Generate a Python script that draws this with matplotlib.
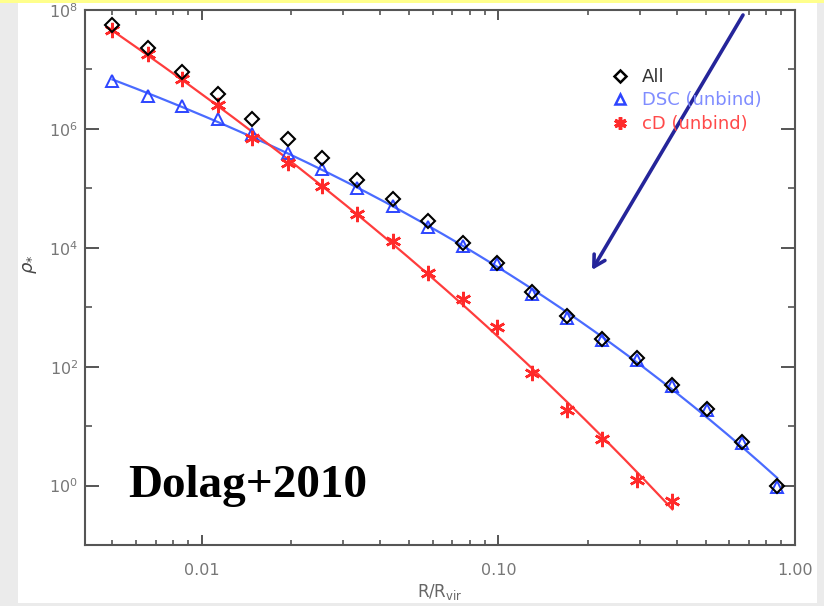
import numpy as np
import matplotlib.pyplot as plt
from matplotlib.lines import Line2D
from matplotlib.patches import Rectangle
from matplotlib.ticker import FixedLocator, LogLocator, NullFormatter

# radial bins (R / R_vir)
r_bins = [0.0050, 0.0066, 0.0086, 0.0113, 0.0148, 0.0195, 0.0255, 0.0335,
          0.0440, 0.0577, 0.0757, 0.0993, 0.130, 0.171, 0.224, 0.294,
          0.386, 0.506, 0.664, 0.871]

rho_all = [5.6e7, 2.3e7, 9.2e6, 3.8e6, 1.45e6, 6.7e5, 3.2e5, 1.4e5,
           6.6e4, 2.8e4, 1.2e4, 5.6e3, 1.8e3, 7.0e2, 2.9e2, 1.4e2,
           49, 19.5, 5.4, 1.0]
rho_dsc = [6.5e6, 3.6e6, 2.4e6, 1.45e6, 8.1e5, 3.9e5, 2.1e5, 1.0e5,
           5.0e4, 2.2e4, 1.07e4, 5.4e3, 1.7e3, 6.5e2, 2.8e2, 1.3e2,
           47, 19, 5.2, 0.95]
rho_cd = [4.6e7, 1.8e7, 7.0e6, 2.5e6, 6.9e5, 2.7e5, 1.1e5, 3.7e4,
          1.3e4, 3.7e3, 1.4e3, 4.6e2, 78, 18.5, 6.1, 1.26, 0.56]

labels = ["All", "DSC (unbind)", "cD (unbind)"]
colors = ["black", "#2d45ff", "#ff2a2a"]
line_colors = ["#4a6bff", "#ff3c3c"]
text_colors = ["#333333", "#7f8cff", "#ff4a4a"]

W, H = 824, 606
fig = plt.figure(figsize=(W / 100, H / 100), dpi=100, facecolor="#ebebeb")

# page background: white panel with a thin yellow strip on top
fig.patches.append(Rectangle((18 / W, 3 / H), (817 - 18) / W, (603 - 3) / H,
                             transform=fig.transFigure, facecolor="white",
                             edgecolor="none", zorder=-10))
fig.patches.append(Rectangle((0, 1 - 3 / H), 1, 3 / H, transform=fig.transFigure,
                             facecolor="#ffff8c", edgecolor="none", zorder=-10))

ax = fig.add_axes([85 / W, 1 - 545 / H, (795 - 85) / W, (545 - 10) / H])
ax.set_xscale("log")
ax.set_yscale("log")
ax.set_xlim(0.00404, 1.0)
ax.set_ylim(0.1, 1e8)


def fit_curve(x, y):
    # smooth cubic fit in log-log space over the range of the data
    lx, ly = np.log10(x), np.log10(y)
    coef = np.polyfit(lx, ly, 3)
    xs = np.linspace(lx[0], lx[-1], 200)
    return 10 ** xs, 10 ** np.polyval(coef, xs)


x_dsc, y_dsc = fit_curve(r_bins, rho_dsc)
x_cd, y_cd = fit_curve(r_bins[:len(rho_cd)], rho_cd)
ax.plot(x_dsc, y_dsc, color=line_colors[0], lw=1.6, zorder=2)
ax.plot(x_cd, y_cd, color=line_colors[1], lw=1.6, zorder=2)

ax.plot(r_bins, rho_all, ls="none", marker="D", ms=7, mfc="none",
        mec=colors[0], mew=1.5, zorder=4)
ax.plot(r_bins, rho_dsc, ls="none", marker="^", ms=9, mfc="none",
        mec=colors[1], mew=1.4, zorder=3)
ax.plot(r_bins[:len(rho_cd)], rho_cd, ls="none", marker=(6, 2, 0), ms=11,
        mec=colors[2], mew=1.8, zorder=3)

# axes styling
for sp in ax.spines.values():
    sp.set_color("#555555")
    sp.set_linewidth(1.5)
ax.yaxis.set_major_locator(FixedLocator([1e0, 1e2, 1e4, 1e6, 1e8]))
ax.yaxis.set_minor_locator(FixedLocator([1e1, 1e3, 1e5, 1e7]))
ax.yaxis.set_minor_formatter(NullFormatter())
ax.xaxis.set_major_locator(FixedLocator([0.01, 0.1, 1.0]))
ax.xaxis.set_minor_locator(LogLocator(base=10, subs=np.arange(2, 10)))
ax.xaxis.set_minor_formatter(NullFormatter())
ax.set_xticklabels(["0.01", "0.10", "1.00"])
ax.set_yticklabels([r"$10^0$", r"$10^2$", r"$10^4$", r"$10^6$", r"$10^8$"])

ax.tick_params(which="both", direction="in", top=True, right=True,
               color="#555555", labelcolor="#777777", labelsize=11.5)
ax.tick_params(axis="y", which="major", length=10, width=1.4, pad=5)
ax.tick_params(axis="y", which="minor", length=5, width=1.2)
ax.tick_params(axis="x", which="major", length=7, width=1.4, pad=13)
ax.tick_params(axis="x", which="minor", length=3.5, width=1.2)

ax.set_xlabel(r"R/R$_{\rm vir}$", color="#666666", fontsize=12, labelpad=3)
fig.text(30 / W, 1 - 264 / H, r"$\rho_{*}$", rotation=90, color="#444444",
         fontsize=13, ha="center", va="center")

# legend
handles = [
    Line2D([], [], ls="none", marker="D", ms=6, mfc="none", mec=colors[0], mew=1.8),
    Line2D([], [], ls="none", marker="^", ms=7, mfc="none", mec=colors[1], mew=1.8),
    Line2D([], [], ls="none", marker=(6, 2, 0), ms=9, mec=colors[2], mew=2.5),
]
ax.legend(handles, labels, loc="upper left", bbox_to_anchor=(602 / W, 1 - 59 / H),
          bbox_transform=fig.transFigure, frameon=False, fontsize=13,
          labelcolor=text_colors, handlelength=1.0, handletextpad=0.7,
          labelspacing=0.3, borderpad=0)

fig.text(128 / W, 1 - 497 / H, "Dolag+2010", family="Liberation Serif",
         fontweight="bold", fontsize=34, color="black", va="baseline")

# pointer arrow
ax.annotate("", xy=(592 / W, 1 - 270 / H), xytext=(743 / W, 1 - 15 / H),
            xycoords="figure fraction", textcoords="figure fraction",
            annotation_clip=False,
            arrowprops=dict(arrowstyle="->,head_length=0.8,head_width=0.45",
                            color="#25259a", lw=2.6, shrinkA=0, shrinkB=0))

fig.savefig("out.png", dpi=100, facecolor=fig.get_facecolor())
